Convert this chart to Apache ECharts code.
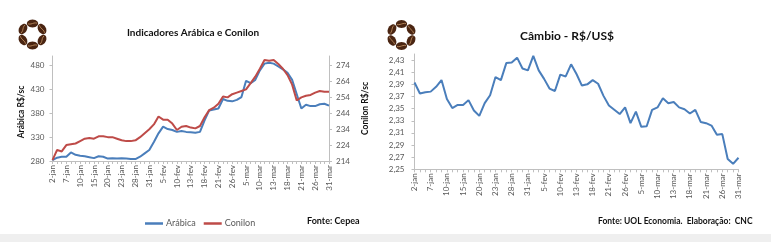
<!DOCTYPE html>
<html>
<head>
<meta charset="utf-8">
<script src="https://cdn.jsdelivr.net/npm/echarts@6/dist/echarts.min.js"></script>
<style>
html,body{margin:0;padding:0;background:#fff;}
#c{width:771px;height:242px;}
</style>
</head>
<body>
<div id="c"></div>
<script>
const categories = [
  '2-jan','3-jan','6-jan','7-jan','8-jan','9-jan','10-jan','13-jan','14-jan','15-jan','16-jan','17-jan',
  '20-jan','21-jan','22-jan','23-jan','24-jan','27-jan','28-jan','29-jan','30-jan','31-jan',
  '3-fev','4-fev','5-fev','6-fev','7-fev','10-fev','11-fev','12-fev','13-fev','14-fev','17-fev','18-fev',
  '19-fev','20-fev','21-fev','24-fev','25-fev','26-fev','27-fev','28-fev',
  '5-mar','6-mar','7-mar','10-mar','11-mar','12-mar','13-mar','14-mar','17-mar','18-mar','19-mar',
  '20-mar','21-mar','24-mar','25-mar','26-mar','27-mar','28-mar','31-mar'
];
const arabica = [
  282,287,289,289,298,293,291,290,288,286,290,289,285,286,285,286,285,284,284,289,296,303,
  320,338,352,347,345,341,343,341,340,339,341,365,386,388,390,410,406,405,408,414,
  448,443,450,470,484,486,484,478,472,465,450,420,390,398,395,395,399,400,396
];
const conilon = [
  214.5,221,220,224,224.5,225,226.5,228,228.5,228,229.5,229.5,229,229,228,227,226.5,226.5,227,229,231.5,234,
  237,242,240,240,237.5,233.5,235.5,236,235,234.5,236,241.5,246,247.5,250,254.5,254,256,257,258,
  259,263,267,272,277.5,277,277.5,275,272,268,262,252,254,255,255.5,257,258,257.5,257.5
];
const cambio = [
  2.393,2.375,2.377,2.378,2.386,2.397,2.366,2.351,2.356,2.356,2.364,2.347,2.338,2.359,2.372,2.402,
  2.397,2.425,2.426,2.434,2.416,2.413,2.437,2.413,2.399,2.383,2.379,2.406,2.403,2.423,2.407,2.388,
  2.390,2.397,2.391,2.371,2.355,2.348,2.341,2.352,2.326,2.345,2.320,2.321,2.348,2.352,2.367,2.359,
  2.361,2.352,2.349,2.342,2.348,2.328,2.326,2.322,2.307,2.308,2.267,2.259,2.269
];
const seriesNames = ['Arábica','Conilon','Câmbio'];
const titles = ['Indicadores Arábica e Conilon','Câmbio - R$/US$'];
const axisNames = ['Arábica R$/sc','Conilon R$/sc'];
const sources = ['Fonte: Cepea','Fonte: UOL Economia.  Elaboração:  CNC'];

const FONT = 'Lato, "Open Sans", sans-serif';
const AXIS_COL = '#bfbfbf';
const LAB_COL = '#595959';

function bean(cx, cy, ang, rx, ry) {
  const u = [Math.cos(ang + Math.PI/2), Math.sin(ang + Math.PI/2)];
  const v = [Math.cos(ang), Math.sin(ang)];
  const pts = [];
  for (let k = 0; k < 24; k++) {
    const t = k / 24 * Math.PI * 2;
    pts.push([cx + u[0]*rx*Math.cos(t) + v[0]*ry*Math.sin(t),
              cy + u[1]*rx*Math.cos(t) + v[1]*ry*Math.sin(t)]);
  }
  const crease = [];
  for (let k = 0; k <= 6; k++) {
    const s = -0.8 + k * 1.6 / 6;
    const off = 0.6 * Math.sin(s * Math.PI);
    crease.push([cx + u[0]*rx*s + v[0]*off, cy + u[1]*rx*s + v[1]*off]);
  }
  return [
    {type:'polygon', shape:{points:pts}, style:{fill:'#4a2512'}},
    {type:'polyline', shape:{points:crease}, style:{stroke:'#b98a5e', lineWidth:0.9, fill:null}}
  ];
}
function logo(cx, cy) {
  let els = [];
  for (let k = 0; k < 6; k++) {
    const a = -Math.PI/2 + k * Math.PI/3;
    els = els.concat(bean(cx + 11*Math.cos(a), cy + 11*Math.sin(a), a, 5.6, 3.9));
  }
  return els;
}

const chart = echarts.init(document.getElementById('c'), null, {renderer:'canvas'});

const yLabel = {fontSize:8, color:LAB_COL, fontFamily:FONT, showMaxLabel:false};
const xCommon = {
  type:'category', data:categories, boundaryGap:false,
  axisLine:{lineStyle:{color:AXIS_COL}},
  axisTick:{show:true, interval:0, length:3, lineStyle:{color:AXIS_COL}},
  axisLabel:{interval:2, rotate:90, fontSize:8, color:LAB_COL, fontFamily:FONT, margin:4},
  splitLine:{show:false}
};

const option = {
  animation:false,
  textStyle:{fontFamily:FONT},
  grid:[
    {left:52.5, right:442, top:56, bottom:81},
    {left:414.5, right:32.5, top:54, bottom:72.7}
  ],
  xAxis:[
    Object.assign({gridIndex:0}, xCommon),
    Object.assign({gridIndex:1}, xCommon)
  ],
  yAxis:[
    {type:'value', gridIndex:0, position:'left', min:280, max:500, interval:50,
     axisLine:{show:true, lineStyle:{color:AXIS_COL}},
     axisTick:{show:true, length:3, lineStyle:{color:AXIS_COL}},
     splitLine:{show:false}, axisLabel:Object.assign({margin:8}, yLabel)},
    {type:'value', gridIndex:0, position:'right', min:214, max:280, interval:10,
     axisLine:{show:true, lineStyle:{color:AXIS_COL}},
     axisTick:{show:true, length:3, lineStyle:{color:AXIS_COL}},
     splitLine:{show:false}, axisLabel:Object.assign({margin:7}, yLabel),
     name:axisNames[1], nameLocation:'middle', nameRotate:90, nameGap:32,
     nameTextStyle:{fontSize:8.5, fontWeight:'bold', color:'#111', fontFamily:FONT}},
    {type:'value', gridIndex:1, position:'left', min:2.25, max:2.44, interval:0.02,
     axisLine:{show:true, lineStyle:{color:AXIS_COL}},
     axisTick:{show:true, length:3, lineStyle:{color:AXIS_COL}},
     splitLine:{show:false},
     axisLabel:Object.assign({margin:10, formatter:v => v.toFixed(2).replace('.', ',')}, yLabel)}
  ],
  legend:{
    data:[seriesNames[0], seriesNames[1]], left:140, top:214, icon:'rect',
    itemWidth:18, itemHeight:2.5, itemGap:8,
    textStyle:{fontSize:9, color:LAB_COL, fontFamily:FONT, padding:[0,0,0,-2]}
  },
  series:[
    {name:seriesNames[0], type:'line', xAxisIndex:0, yAxisIndex:0, data:arabica,
     symbol:'none', color:'#4a7ebb', lineStyle:{width:2, color:'#4a7ebb'}},
    {name:seriesNames[1], type:'line', xAxisIndex:0, yAxisIndex:1, data:conilon,
     symbol:'none', color:'#be4b48', lineStyle:{width:2, color:'#be4b48'}},
    {name:seriesNames[2], type:'line', xAxisIndex:1, yAxisIndex:2, data:cambio,
     symbol:'none', color:'#4a7ebb', lineStyle:{width:2, color:'#4a7ebb'}}
  ],
  graphic:[
    {type:'rect', shape:{x:0, y:234, width:771, height:8}, style:{fill:'#efefef'}, z:-10},
    {type:'group', children:logo(32.5, 34.5)},
    {type:'group', children:logo(401.5, 35)},
    {type:'text', x:21, y:112, rotation:Math.PI/2, style:{text:axisNames[0], font:'bold 8.5px ' + FONT,
      fill:'#111', textAlign:'center', textVerticalAlign:'middle'}},
    {type:'text', x:193, y:33, style:{text:titles[0], font:'bold 10px ' + FONT, fill:'#111',
      textAlign:'center', textVerticalAlign:'middle'}},
    {type:'text', x:567, y:36, style:{text:titles[1], font:'bold 12px ' + FONT, fill:'#111',
      textAlign:'center', textVerticalAlign:'middle'}},
    {type:'text', x:307, y:221, style:{text:sources[0], font:'bold 9px ' + FONT, fill:'#111',
      textAlign:'left', textVerticalAlign:'middle'}},
    {type:'text', x:598, y:221, style:{text:sources[1], font:'bold 8.5px ' + FONT, fill:'#111',
      textAlign:'left', textVerticalAlign:'middle'}}
  ]
};
chart.setOption(option);
</script>
</body>
</html>
